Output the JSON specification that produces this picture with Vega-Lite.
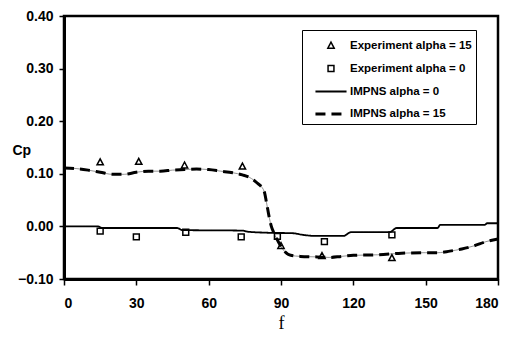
{
  "$schema": "https://vega.github.io/schema/vega-lite/v6.json",
  "width": 434,
  "height": 263,
  "autosize": {"type": "none"},
  "padding": {"left": 64, "top": 16, "right": 18, "bottom": 59},
  "background": "white",
  "config": {
    "font": "Liberation Sans",
    "view": {"stroke": "black", "strokeWidth": 2.5},
    "legend": {
      "title": null,
      "orient": "none", "legendX": 238, "legendY": 14,
      "padding": 4, "strokeColor": "black", "fillColor": "white",
      "symbolStrokeColor": "black", "symbolSize": 441, "symbolOffset": 13,
      "labelOffset": 7, "labelFont": "Liberation Sans", "labelFontSize": 11.5, "labelFontWeight": "bold", "labelColor": "black",
      "rowPadding": 5
    }
  },
  "data": {
    "values": [
      {"series": "IMPNS alpha = 0", "f": 0, "cp": 0.0}, {"series": "IMPNS alpha = 0", "f": 14, "cp": 0.0},
      {"series": "IMPNS alpha = 0", "f": 16, "cp": -0.003}, {"series": "IMPNS alpha = 0", "f": 47, "cp": -0.003},
      {"series": "IMPNS alpha = 0", "f": 49, "cp": -0.007}, {"series": "IMPNS alpha = 0", "f": 74, "cp": -0.008},
      {"series": "IMPNS alpha = 0", "f": 76, "cp": -0.010}, {"series": "IMPNS alpha = 0", "f": 84, "cp": -0.012},
      {"series": "IMPNS alpha = 0", "f": 95, "cp": -0.013}, {"series": "IMPNS alpha = 0", "f": 99, "cp": -0.016},
      {"series": "IMPNS alpha = 0", "f": 104, "cp": -0.018}, {"series": "IMPNS alpha = 0", "f": 116, "cp": -0.018},
      {"series": "IMPNS alpha = 0", "f": 119, "cp": -0.011}, {"series": "IMPNS alpha = 0", "f": 135, "cp": -0.011},
      {"series": "IMPNS alpha = 0", "f": 138, "cp": -0.003}, {"series": "IMPNS alpha = 0", "f": 155, "cp": -0.003},
      {"series": "IMPNS alpha = 0", "f": 156, "cp": 0.003}, {"series": "IMPNS alpha = 0", "f": 174.5, "cp": 0.003},
      {"series": "IMPNS alpha = 0", "f": 175.5, "cp": 0.006}, {"series": "IMPNS alpha = 0", "f": 180, "cp": 0.006},
      {"series": "IMPNS alpha = 15", "f": 0, "cp": 0.111}, {"series": "IMPNS alpha = 15", "f": 5, "cp": 0.110},
      {"series": "IMPNS alpha = 15", "f": 10, "cp": 0.107}, {"series": "IMPNS alpha = 15", "f": 15, "cp": 0.103},
      {"series": "IMPNS alpha = 15", "f": 20, "cp": 0.099}, {"series": "IMPNS alpha = 15", "f": 25, "cp": 0.099},
      {"series": "IMPNS alpha = 15", "f": 30, "cp": 0.103}, {"series": "IMPNS alpha = 15", "f": 35, "cp": 0.105},
      {"series": "IMPNS alpha = 15", "f": 40, "cp": 0.105}, {"series": "IMPNS alpha = 15", "f": 45, "cp": 0.107},
      {"series": "IMPNS alpha = 15", "f": 50, "cp": 0.108}, {"series": "IMPNS alpha = 15", "f": 55, "cp": 0.109},
      {"series": "IMPNS alpha = 15", "f": 60, "cp": 0.108}, {"series": "IMPNS alpha = 15", "f": 65, "cp": 0.105},
      {"series": "IMPNS alpha = 15", "f": 70, "cp": 0.102}, {"series": "IMPNS alpha = 15", "f": 74, "cp": 0.098},
      {"series": "IMPNS alpha = 15", "f": 77, "cp": 0.093}, {"series": "IMPNS alpha = 15", "f": 80, "cp": 0.083},
      {"series": "IMPNS alpha = 15", "f": 83, "cp": 0.067}, {"series": "IMPNS alpha = 15", "f": 84, "cp": 0.045},
      {"series": "IMPNS alpha = 15", "f": 85, "cp": 0.020}, {"series": "IMPNS alpha = 15", "f": 86, "cp": 0.0},
      {"series": "IMPNS alpha = 15", "f": 87, "cp": -0.012}, {"series": "IMPNS alpha = 15", "f": 89, "cp": -0.030},
      {"series": "IMPNS alpha = 15", "f": 91, "cp": -0.045}, {"series": "IMPNS alpha = 15", "f": 94, "cp": -0.055},
      {"series": "IMPNS alpha = 15", "f": 98, "cp": -0.057}, {"series": "IMPNS alpha = 15", "f": 105, "cp": -0.058},
      {"series": "IMPNS alpha = 15", "f": 110, "cp": -0.059}, {"series": "IMPNS alpha = 15", "f": 115, "cp": -0.057},
      {"series": "IMPNS alpha = 15", "f": 120, "cp": -0.055}, {"series": "IMPNS alpha = 15", "f": 130, "cp": -0.054},
      {"series": "IMPNS alpha = 15", "f": 140, "cp": -0.051}, {"series": "IMPNS alpha = 15", "f": 150, "cp": -0.050},
      {"series": "IMPNS alpha = 15", "f": 155, "cp": -0.050}, {"series": "IMPNS alpha = 15", "f": 160, "cp": -0.047},
      {"series": "IMPNS alpha = 15", "f": 165, "cp": -0.043}, {"series": "IMPNS alpha = 15", "f": 170, "cp": -0.037},
      {"series": "IMPNS alpha = 15", "f": 175, "cp": -0.029}, {"series": "IMPNS alpha = 15", "f": 180, "cp": -0.024},
      {"series": "Experiment alpha = 15", "f": 15, "cp": 0.122},
      {"series": "Experiment alpha = 15", "f": 31, "cp": 0.123},
      {"series": "Experiment alpha = 15", "f": 50, "cp": 0.116},
      {"series": "Experiment alpha = 15", "f": 74, "cp": 0.114},
      {"series": "Experiment alpha = 15", "f": 90, "cp": -0.037},
      {"series": "Experiment alpha = 15", "f": 107, "cp": -0.056},
      {"series": "Experiment alpha = 15", "f": 136, "cp": -0.060},
      {"series": "Experiment alpha = 0", "f": 15, "cp": -0.009},
      {"series": "Experiment alpha = 0", "f": 30, "cp": -0.020},
      {"series": "Experiment alpha = 0", "f": 50.5, "cp": -0.011},
      {"series": "Experiment alpha = 0", "f": 73.5, "cp": -0.020},
      {"series": "Experiment alpha = 0", "f": 88.5, "cp": -0.019},
      {"series": "Experiment alpha = 0", "f": 108, "cp": -0.029},
      {"series": "Experiment alpha = 0", "f": 136, "cp": -0.016}
    ]
  },
  "encoding": {
    "x": {
      "field": "f", "type": "quantitative",
      "scale": {"domain": [0, 180], "nice": false, "zero": false},
      "axis": {
        "title": "f", "values": [0, 30, 60, 90, 120, 150, 180],
        "grid": false, "domainColor": "black", "domainWidth": 3,
        "tickColor": "black", "tickSize": 6, "tickWidth": 1.5,
        "labelFont": "Liberation Sans", "labelFontSize": 14, "labelFontWeight": "bold", "labelColor": "black",
        "labelPadding": 11,
        "titleFont": "Liberation Serif", "titleFontSize": 18, "titleFontWeight": "normal", "titleColor": "black",
        "titleBaseline": "alphabetic", "titleY": 49
      }
    },
    "y": {
      "field": "cp", "type": "quantitative",
      "scale": {"domain": [-0.1, 0.4], "nice": false, "zero": false},
      "axis": {
        "title": "Cp", "values": [-0.1, 0, 0.1, 0.2, 0.3, 0.4], "format": ".2f",
        "grid": false, "domainColor": "black", "domainWidth": 3,
        "tickColor": "black", "tickSize": 5, "tickWidth": 1.5,
        "labelFont": "Liberation Sans", "labelFontSize": 14, "labelFontWeight": "bold", "labelColor": "black",
        "labelPadding": 6,
        "titleFont": "Liberation Sans", "titleFontSize": 14, "titleFontWeight": "bold", "titleColor": "black",
        "titleAngle": 0, "titleAlign": "left", "titleBaseline": "alphabetic", "titleX": -52, "titleY": 138
      }
    }
  },
  "layer": [
    {
      "transform": [{"filter": "datum.series === 'IMPNS alpha = 15'"}],
      "mark": {"type": "line", "color": "#777777", "strokeWidth": 0.8, "interpolate": "monotone"},
      "encoding": {}
    },
    {
      "transform": [{"filter": "indexof(datum.series, 'IMPNS') === 0"}],
      "mark": {"type": "line", "color": "black", "interpolate": "monotone"},
      "encoding": {
        "detail": {"field": "series", "type": "nominal"},
        "strokeDash": {
          "field": "series", "type": "ordinal",
          "scale": {
            "type": "ordinal",
            "domain": ["Experiment alpha = 15", "Experiment alpha = 0", "IMPNS alpha = 0", "IMPNS alpha = 15"],
            "range": [[1, 0], [1, 0], [1, 0], [10, 6]]
          }
        },
        "strokeWidth": {
          "field": "series", "type": "ordinal",
          "scale": {
            "type": "ordinal",
            "domain": ["Experiment alpha = 15", "Experiment alpha = 0", "IMPNS alpha = 0", "IMPNS alpha = 15"],
            "range": [1.5, 1.5, 1.8, 3]
          }
        }
      }
    },
    {
      "transform": [{"filter": "indexof(datum.series, 'Experiment') === 0"}],
      "mark": {"type": "point", "filled": false, "color": "black", "strokeWidth": 1.5, "opacity": 1, "size": 441},
      "encoding": {
        "shape": {
          "field": "series", "type": "ordinal",
          "scale": {
            "type": "ordinal",
            "domain": ["Experiment alpha = 15", "Experiment alpha = 0", "IMPNS alpha = 0", "IMPNS alpha = 15"],
            "range": ["M0,-0.32L0.3,0.25L-0.3,0.25Z", "M-0.28,-0.28H0.28V0.28H-0.28Z", "M-1.48,0L1.48,0", "M-1.48,0L1.48,0"]
          }
        }
      }
    }
  ]
}
